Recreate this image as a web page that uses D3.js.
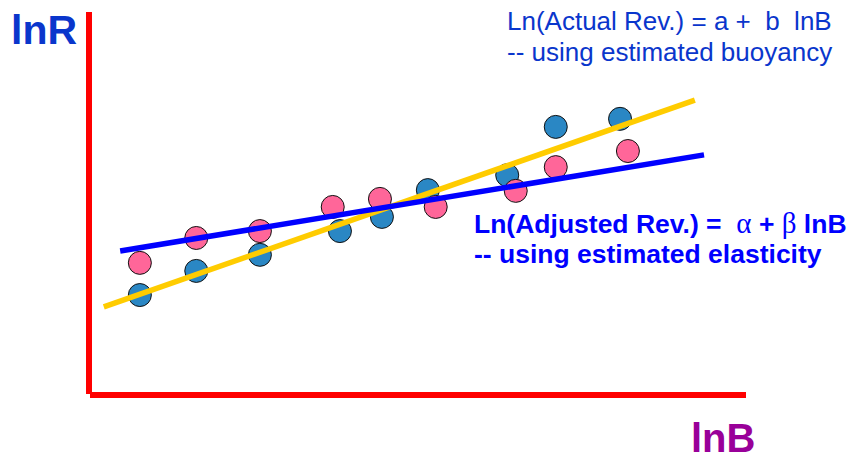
<!DOCTYPE html>
<html>
<head>
<meta charset="utf-8">
<script src="https://cdn.jsdelivr.net/npm/d3@7"></script>
<style>
  html, body { margin: 0; padding: 0; background: #fff; }
  svg { display: block; font-family: "Liberation Sans", Arial, sans-serif; }
</style>
</head>
<body>
<div id="chart"></div>
<script>
// lnB vs lnR: actual vs adjusted revenue, two fitted lines

const W = 852, H = 459;

// data (arbitrary units, 0-10 on both axes)
const actualB = [0.76, 1.62, 2.59, 3.81, 4.45, 5.15, 6.36, 7.10, 8.08];
const actualR = [2.61, 3.24, 3.66, 4.28, 4.65, 5.35, 5.74, 7.00, 7.21];
const adjustedB = [0.76, 1.62, 2.59, 3.70, 4.42, 5.27, 6.49, 7.10, 8.20];
const adjustedR = [3.45, 4.10, 4.28, 4.91, 5.12, 4.91, 5.33, 5.95, 6.37];

// fitted line end points [lnB, lnR]
const buoyancyLine = [[0.21, 2.30], [9.22, 7.70]];
const elasticityLine = [[0.46, 3.76], [9.36, 6.27]];

const svg = d3.select("#chart")
    .append("svg")
    .attr("width", W)
    .attr("height", H);

const x = d3.scaleLinear().domain([0, 10]).range([90, 746]);
const y = d3.scaleLinear().domain([0, 10]).range([395, 12]);

// axes (plain red lines, no ticks)
svg.append("line")
    .attr("x1", x(0) - 1).attr("x2", x(0) - 1)
    .attr("y1", y(10)).attr("y2", y(0) - 1)
    .attr("stroke", "#ff0000")
    .attr("stroke-width", 6);

svg.append("line")
    .attr("x1", x(0)).attr("x2", x(10))
    .attr("y1", y(0)).attr("y2", y(0))
    .attr("stroke", "#ff0000")
    .attr("stroke-width", 6);

const actual = actualB.map((b, i) => ({ b, r: actualR[i] }));
const adjusted = adjustedB.map((b, i) => ({ b, r: adjustedR[i] }));

// points
svg.append("g").selectAll("circle")
    .data(actual)
    .enter()
    .append("circle")
    .attr("cx", d => x(d.b))
    .attr("cy", d => y(d.r))
    .attr("r", 11.5)
    .attr("fill", "#2a87c4")
    .attr("stroke", "#111")
    .attr("stroke-width", 1);

svg.append("g").selectAll("circle")
    .data(adjusted)
    .enter()
    .append("circle")
    .attr("cx", d => x(d.b))
    .attr("cy", d => y(d.r))
    .attr("r", 11.5)
    .attr("fill", "#ff6699")
    .attr("stroke", "#111")
    .attr("stroke-width", 1);

// fitted lines
const line = d3.line().x(d => x(d[0])).y(d => y(d[1]));

svg.append("path")
    .attr("d", line(buoyancyLine))
    .attr("fill", "none")
    .attr("stroke", "#ffcc00")
    .attr("stroke-width", 5.5);

svg.append("path")
    .attr("d", line(elasticityLine))
    .attr("fill", "none")
    .attr("stroke", "#0000ff")
    .attr("stroke-width", 5.5);

// axis titles
svg.append("text")
    .attr("x", 11).attr("y", 44)
    .attr("font-size", 41)
    .attr("font-weight", "bold")
    .attr("fill", "#0a36cc")
    .text("lnR");

svg.append("text")
    .attr("x", 691).attr("y", 452)
    .attr("font-size", 40)
    .attr("font-weight", "bold")
    .attr("fill", "#990099")
    .text("lnB");

// annotations
const topNote = svg.append("text")
    .attr("font-size", 26)
    .attr("fill", "#0a36cc")
    .style("white-space", "pre");
topNote.append("tspan").attr("x", 507).attr("y", 30).text("Ln(Actual Rev.) = a +  b  lnB");
topNote.append("tspan").attr("x", 507).attr("y", 61).text("-- using estimated buoyancy");

const midNote = svg.append("text")
    .attr("font-size", 26.5)
    .attr("font-weight", "bold")
    .attr("fill", "#0000ff")
    .style("white-space", "pre");
const l1 = midNote.append("tspan").attr("x", 474).attr("y", 233);
l1.append("tspan").text("Ln(Adjusted Rev.) =  ");
l1.append("tspan").attr("font-family", "'Liberation Serif', serif").attr("font-weight", "normal").attr("font-size", 29).text("α");
l1.append("tspan").text(" + ");
l1.append("tspan").attr("font-family", "'Liberation Serif', serif").attr("font-weight", "normal").attr("font-size", 29).text("β");
l1.append("tspan").text(" lnB");
midNote.append("tspan").attr("x", 474).attr("y", 263).text("-- using estimated elasticity");
</script>
</body>
</html>
